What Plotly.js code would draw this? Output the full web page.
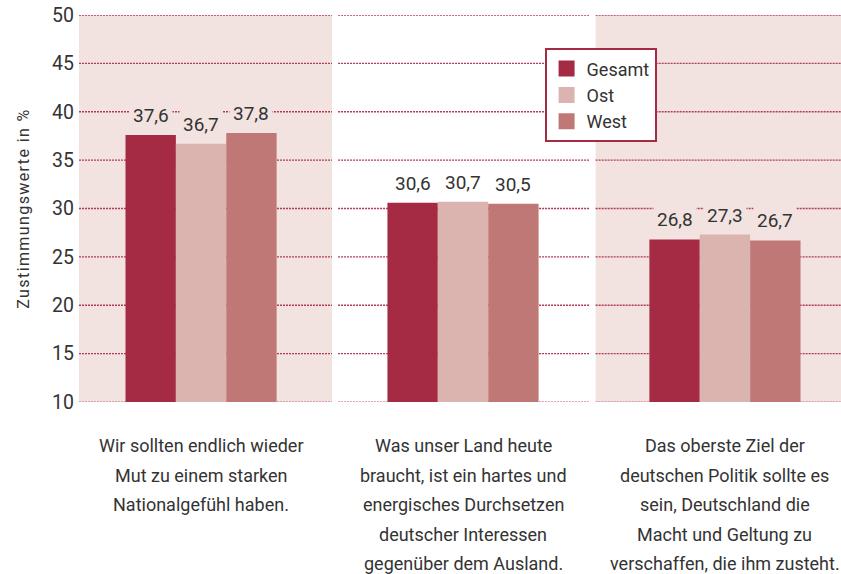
<!DOCTYPE html>
<html><head><meta charset="utf-8">
<script src="https://cdn.plot.ly/plotly-3.0.1.min.js"></script>
<style>html,body{margin:0;padding:0;background:#fff}#chart{width:841px;height:574px}
#chart .ytitle{letter-spacing:1.4px}</style>
</head><body><div id="chart"></div>
<script>
// ---- data ----
const categoryLines = [
  ["Wir sollten endlich wieder", "Mut zu einem starken", "Nationalgefühl haben."],
  ["Was unser Land heute", "braucht, ist ein hartes und", "energisches Durchsetzen", "deutscher Interessen", "gegenüber dem Ausland."],
  ["Das oberste Ziel der", "deutschen Politik sollte es", "sein, Deutschland die", "Macht und Geltung zu", "verschaffen, die ihm zusteht."]
];
const seriesNames = ["Gesamt", "Ost", "West"];
const gesamt = [37.6, 30.6, 26.8];
const ost    = [36.7, 30.7, 27.3];
const west   = [37.8, 30.5, 26.7];
const yTicks = [10, 15, 20, 25, 30, 35, 40, 45, 50];

// ---- style ----
const colors = ["#A52A44", "#DBB4AF", "#C07876"];
const bandColor = "#F2E3E0";
const gridColor = "#B23A55";
const font = "Roboto, 'Open Sans', sans-serif";
const textColor = "#333333";

const xs = categoryLines.map((_, i) => i);
const allSeries = [gesamt, ost, west];
const bargap = 0.423;
const barW = (1 - bargap) / allSeries.length;

const traces = allSeries.map((vals, k) => ({
  type: "bar", x: xs, y: vals, name: seriesNames[k],
  marker: {color: colors[k], line: {width: 0}},
  showlegend: false, hoverinfo: "skip"
}));
seriesNames.forEach((n, k) => traces.push({
  type: "scatter", mode: "markers", x: [null], y: [null], name: n,
  marker: {symbol: "square", size: 18, color: colors[k]}, showlegend: true
}));

const bands = [[0, 0.332], [0.678, 1]];
const segs = [[0, 0.332], [0.340, 0.6706], [0.678, 1]];
const shapes = [];
bands.forEach(b => shapes.push({type: "rect", xref: "paper", yref: "paper", x0: b[0], x1: b[1], y0: 0, y1: 1,
  fillcolor: bandColor, line: {width: 0}, layer: "below"}));
yTicks.forEach(v => segs.forEach(s => shapes.push({type: "line", xref: "paper", yref: "y", x0: s[0], x1: s[1], y0: v, y1: v,
  line: {color: v === 10 ? "#D08A98" : gridColor, width: 1.3, dash: "2px,1px"}, layer: "between"})));

const annotations = [];
allSeries.forEach((vals, k) => vals.forEach((v, i) => annotations.push({
  x: i + (k - 1) * barW, y: v, xref: "x", yref: "y", yanchor: "bottom", xanchor: "center",
  text: v.toFixed(1).replace(".", ","), showarrow: false, yshift: 4,
  bgcolor: i === 1 ? "#ffffff" : bandColor, borderpad: 3,
  font: {family: font, size: 19, color: textColor}
})));
categoryLines.forEach((lines, i) => lines.forEach((t, j) => annotations.push({
  x: i, y: 0, xref: "x", yref: "paper", yanchor: "middle", xanchor: "center",
  yshift: -43.5 - j * 29.6, text: t, showarrow: false,
  font: {family: font, size: 18, color: textColor}
})));

const layout = {
  width: 841, height: 574,
  margin: {l: 79, r: 0, t: 15, b: 172},
  paper_bgcolor: "#ffffff", plot_bgcolor: "#ffffff",
  barmode: "group", bargap: bargap, bargroupgap: 0,
  font: {family: font, color: textColor},
  xaxis: {range: [-0.466, 2.443], showticklabels: false, showgrid: false, zeroline: false, showline: false, fixedrange: true},
  yaxis: {range: [10, 50], tickvals: yTicks, showgrid: false, zeroline: false, showline: false,
    tickfont: {family: font, size: 19.5, color: textColor}, ticklabelstandoff: 4,
    title: {text: "Zustimmungswerte in %", font: {family: font, size: 16, color: textColor}, standoff: 18}},
  legend: {x: 0.611, y: 0.914, xanchor: "left", yanchor: "top", bgcolor: "#ffffff",
    bordercolor: "#A52A44", borderwidth: 2, font: {family: font, size: 18, color: textColor},
    itemwidth: 30, tracegroupgap: 0},
  shapes: shapes, annotations: annotations
};
Plotly.newPlot("chart", traces, layout, {displayModeBar: false, staticPlot: true});
</script></body></html>
